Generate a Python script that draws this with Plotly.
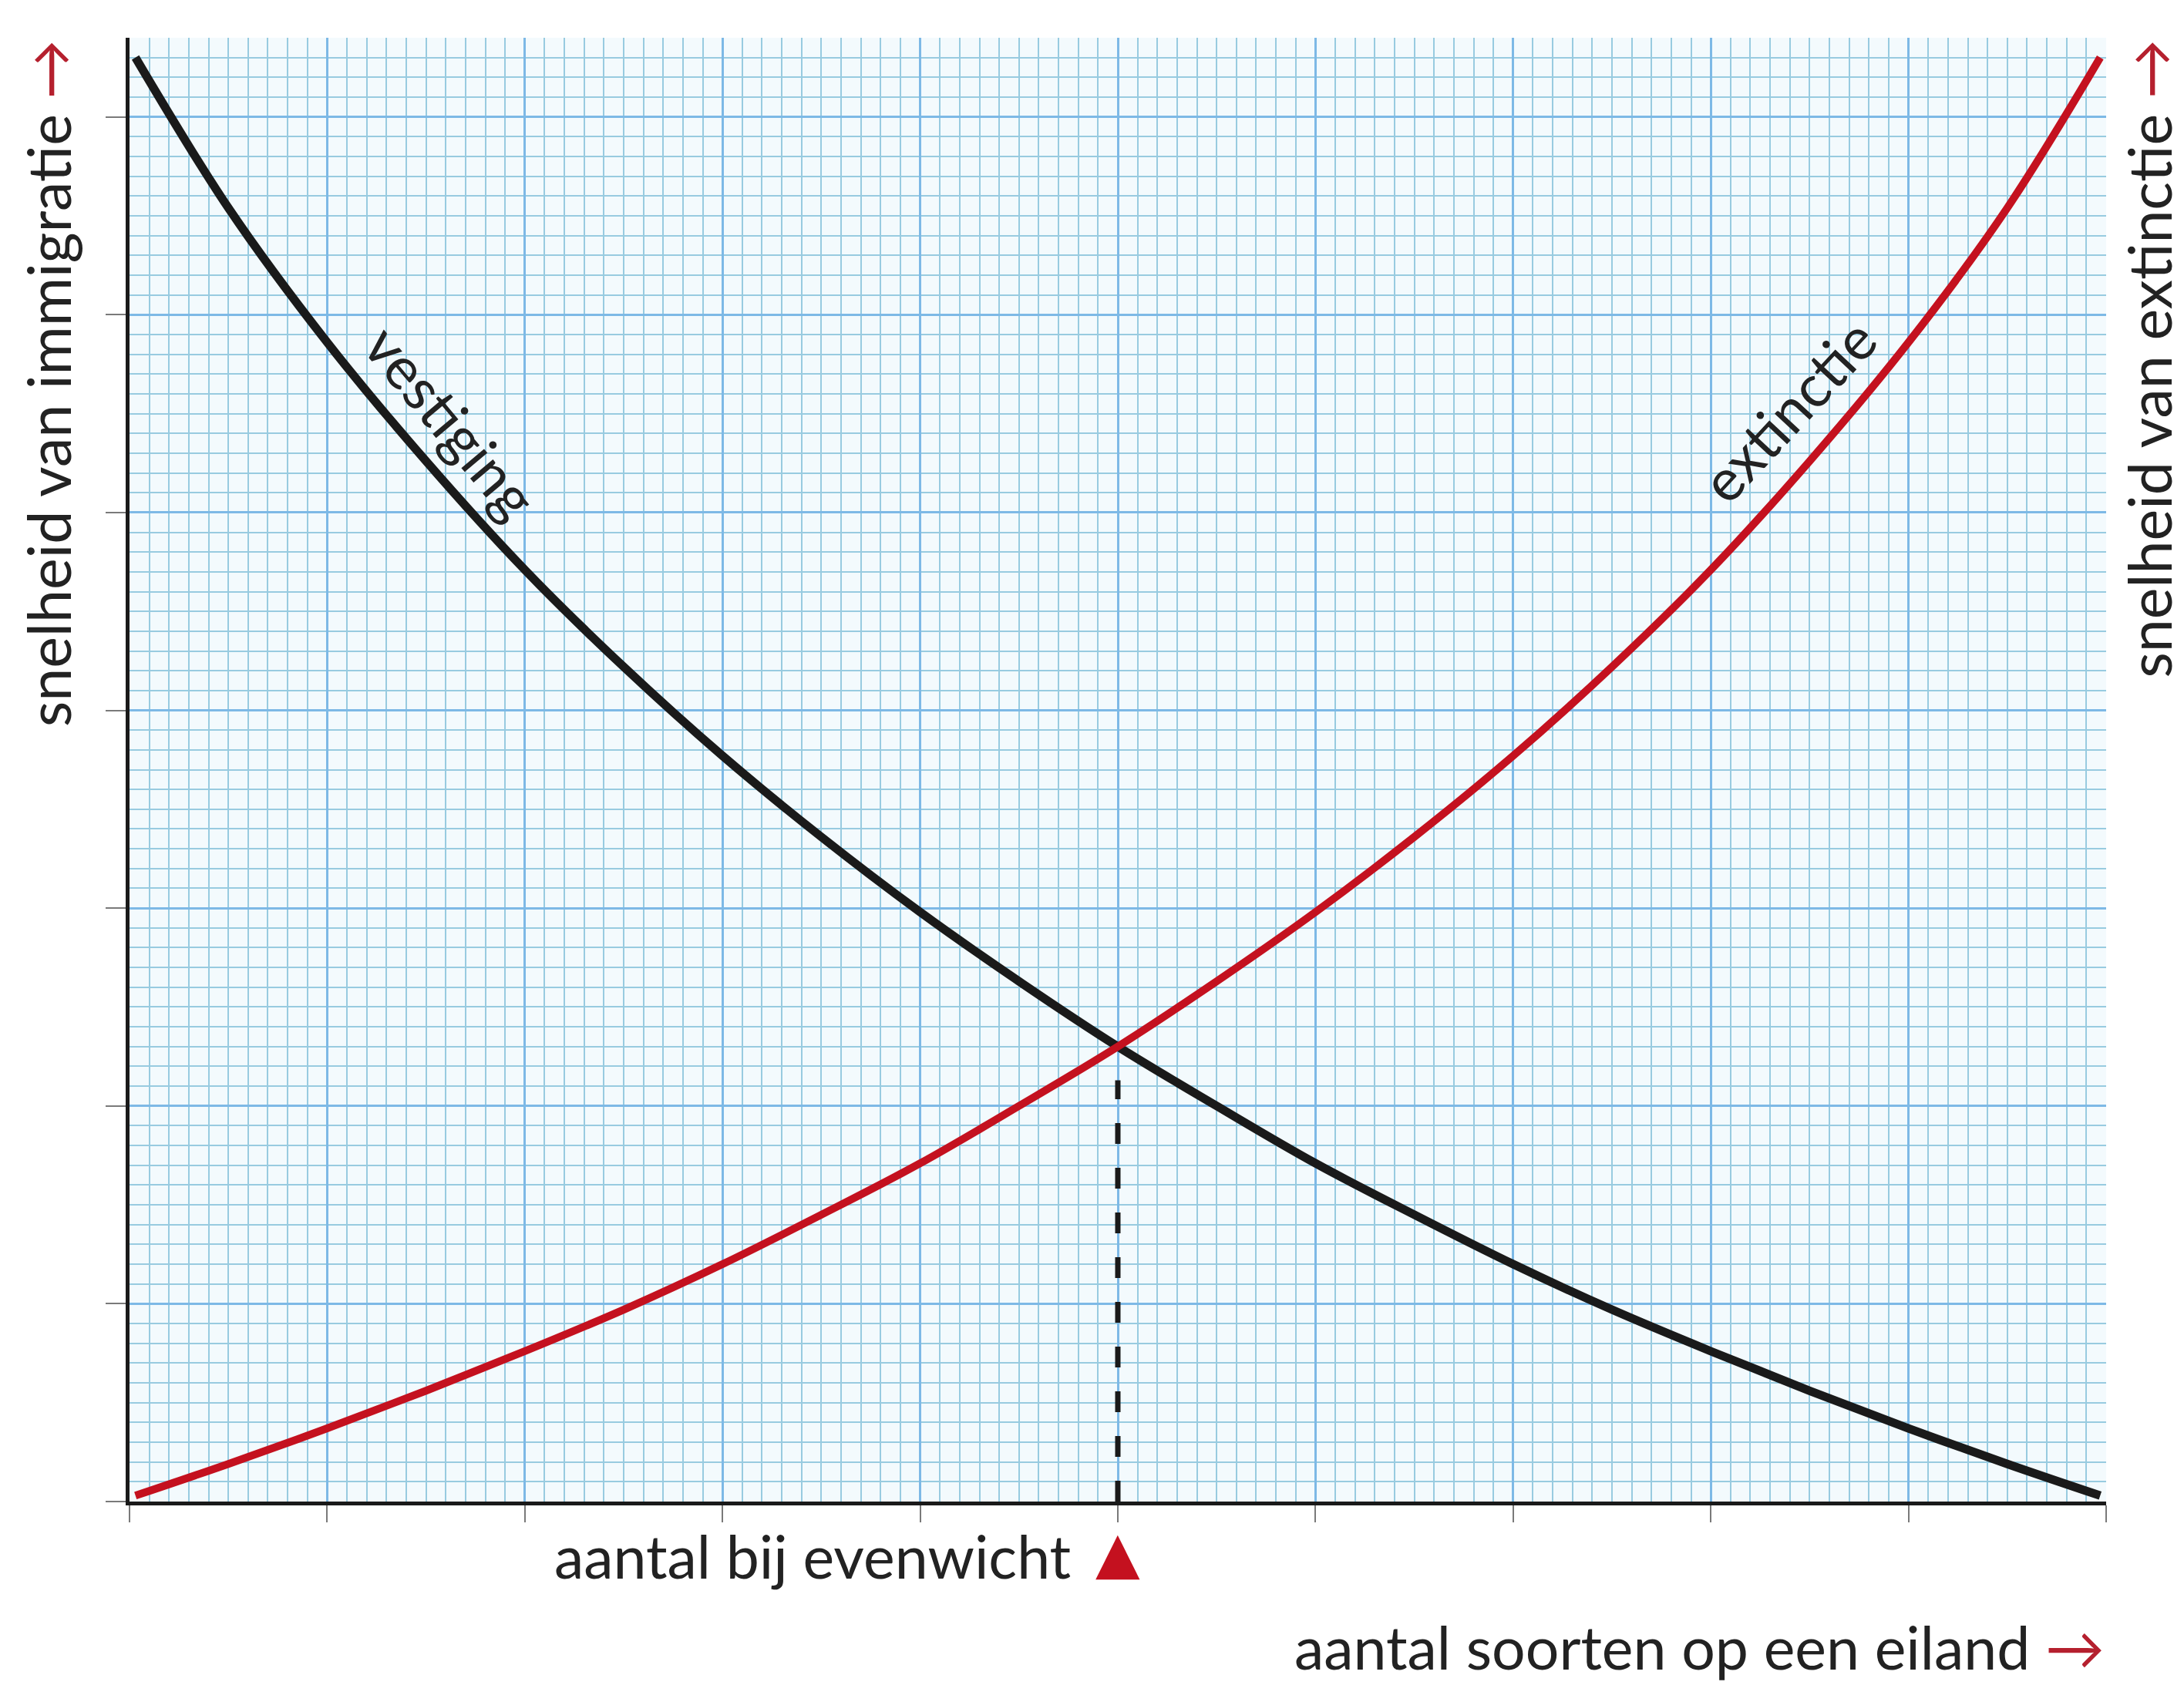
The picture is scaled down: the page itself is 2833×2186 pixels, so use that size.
import plotly.graph_objects as go

# ---- data (axis units: 1 = one major grid square) ----
curve_x = [0.03, 0.5, 1, 1.5, 2, 2.5, 3, 3.5, 4, 4.5, 5,
           5.5, 6, 6.5, 7, 7.5, 8, 8.5, 9, 9.5, 9.97]
extinctie_y = [0.03, 0.19, 0.37, 0.56, 0.76, 0.97, 1.20, 1.45, 1.71, 2.00, 2.30,
               2.63, 2.98, 3.36, 3.77, 4.22, 4.71, 5.26, 5.86, 6.54, 7.30]
vestiging_y = [7.30, 6.54, 5.86, 5.26, 4.71, 4.22, 3.77, 3.36, 2.98, 2.63, 2.30,
               2.00, 1.71, 1.45, 1.20, 0.97, 0.76, 0.56, 0.37, 0.19, 0.03]

evenwicht_x = [5, 5]
evenwicht_y = [0, 2.13]

x_range = [0, 10]
y_range = [0, 7.4]

FONT = "Lato, 'Open Sans', sans-serif"
TXT = "#222222"
RED = "#c4111f"
ARROW = "#b5202e"
FS = 77

fig = go.Figure()

fig.add_trace(go.Scatter(
    x=evenwicht_x, y=evenwicht_y, mode="lines",
    line=dict(color="#1a1a1a", width=7, dash="27px,31px"),
    hoverinfo="skip", showlegend=False))

fig.add_trace(go.Scatter(
    x=curve_x, y=vestiging_y, mode="lines",
    line=dict(color="#1a1a1a", width=11, shape="spline", smoothing=1.0),
    showlegend=False))

fig.add_trace(go.Scatter(
    x=curve_x, y=extinctie_y, mode="lines",
    line=dict(color=RED, width=10, shape="spline", smoothing=1.0),
    showlegend=False))

grid_major = "#7db9e6"
grid_minor = "#98cbe0"

fig.update_xaxes(
    range=x_range, dtick=1, tick0=0,
    showgrid=True, gridcolor=grid_major, gridwidth=3,
    minor=dict(dtick=0.1, tick0=0, showgrid=True, gridcolor=grid_minor, gridwidth=2),
    showline=True, linecolor="#1a1a1a", linewidth=5,
    ticks="outside", ticklen=22, tickwidth=2, tickcolor="#7a7a7a",
    showticklabels=False, zeroline=False, fixedrange=True)

fig.update_yaxes(
    range=y_range, dtick=1, tick0=0,
    showgrid=True, gridcolor=grid_major, gridwidth=3,
    minor=dict(dtick=0.1, tick0=0, showgrid=True, gridcolor=grid_minor, gridwidth=2),
    showline=True, linecolor="#1a1a1a", linewidth=5,
    ticks="outside", ticklen=26, tickwidth=2, tickcolor="#7a7a7a",
    showticklabels=False, zeroline=False, fixedrange=True)

annotations = [
    dict(text="vestiging", x=1.63, y=5.46, xref="x", yref="y",
         textangle=50, showarrow=False, font=dict(family=FONT, size=76, color=TXT)),
    dict(text="extinctie", x=8.39, y=5.52, xref="x", yref="y",
         textangle=-47, showarrow=False, font=dict(family=FONT, size=76, color=TXT)),
    dict(text="aantal bij evenwicht", x=4.77, y=-0.0370, xref="x", yref="paper",
         xanchor="right", yanchor="middle", showarrow=False,
         font=dict(family=FONT, size=FS, color=TXT)),
    dict(text="▲", x=evenwicht_x[0], y=-0.0345, xref="x", yref="paper",
         xanchor="center", yanchor="middle", showarrow=False,
         font=dict(family="DejaVu Sans", size=75, color=RED)),
    dict(text="aantal soorten op een eiland <span style='color:%s'>→</span>" % ARROW,
         x=10, y=-0.0990, xref="x", yref="paper", xanchor="right", yanchor="middle",
         showarrow=False, font=dict(family=FONT, size=FS, color=TXT)),
    dict(text="snelheid van immigratie <span style='color:%s'>→</span>" % ARROW,
         x=-0.0413, y=1.0, xref="paper", yref="paper", xanchor="center", yanchor="top",
         textangle=-90, showarrow=False, font=dict(family=FONT, size=FS, color=TXT)),
    dict(text="snelheid van extinctie <span style='color:%s'>→</span>" % ARROW,
         x=1.0211, y=1.0, xref="paper", yref="paper", xanchor="center", yanchor="top",
         textangle=-90, showarrow=False, font=dict(family=FONT, size=FS, color=TXT)),
]

# page body has an 8px default margin: shrink the figure so the plot area
# lands at the same page pixels as in the reference
fig.update_layout(
    width=2825, height=2178, autosize=False,
    margin=dict(l=160, r=101, t=41, b=238, pad=0),
    paper_bgcolor="white", plot_bgcolor="#f3fafd",
    annotations=annotations, showlegend=False,
    font=dict(family=FONT, color=TXT),
)

fig.write_html("out.html")
